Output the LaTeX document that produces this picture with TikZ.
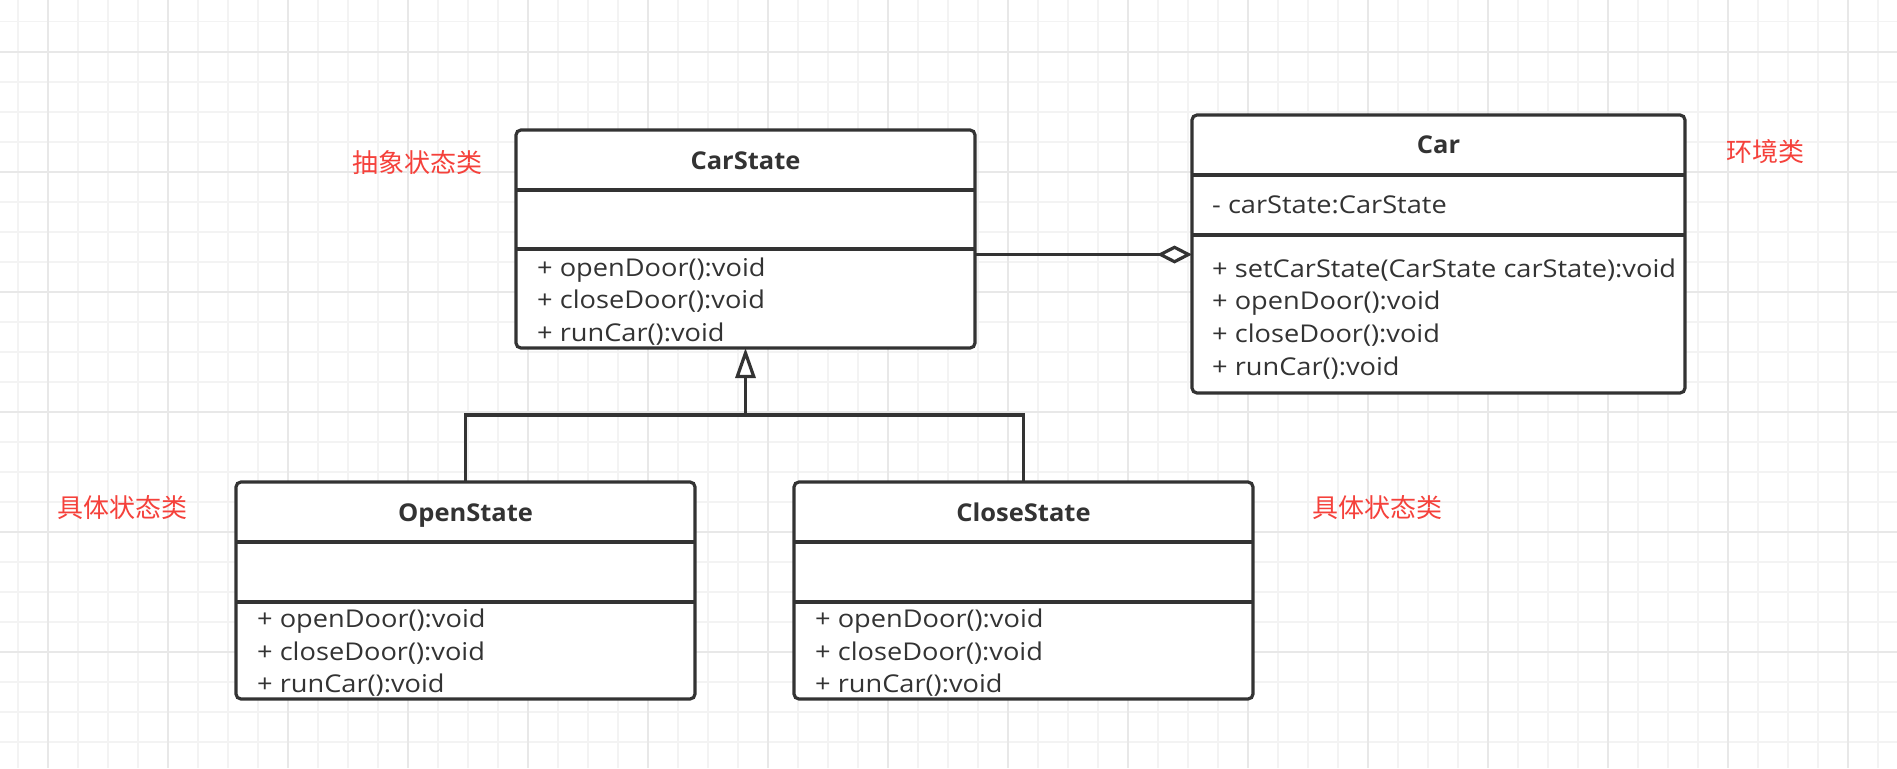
\documentclass[tikz,border=0pt]{standalone}
\usepackage{fontspec}
\setmainfont{Open Sans}
\newfontfamily\uifont[FakeStretch=1.11]{Open Sans}
\newfontfamily\uititle[FakeStretch=1.04]{Open Sans}
\newfontfamily\cjkfont{Noto Sans CJK SC}
\usetikzlibrary{arrows.meta,calc}

\definecolor{ink}{HTML}{333333}
\definecolor{gridminor}{HTML}{F3F3F3}
\definecolor{gridmajor}{HTML}{E8E8E8}
\definecolor{notered}{HTML}{F5413B}

\begin{document}
\begin{tikzpicture}[x=1pt,y=-1pt,
  classbox/.style={draw=ink, line width=3.2pt, fill=white, rounded corners=5pt,
    inner sep=0pt, outer sep=0pt, anchor=north west},
  sepline/.style={draw=ink, line width=3.2pt},
  conn/.style={draw=ink, line width=3.2pt, line join=miter},
  mtext/.style={anchor=base west, inner sep=0pt, text=ink, font=\uifont\fontsize{24.5}{28}\selectfont},
  ttext/.style={anchor=base, inner sep=0pt, text=ink, font=\uititle\fontsize{24.5}{28}\selectfont\bfseries},
  notelabel/.style={anchor=west, inner sep=0pt, text=notered, font=\fontsize{26}{30}\selectfont\cjkfont},
  minorline/.style={draw=gridminor, line width=1.6pt},
  majorline/.style={draw=gridmajor, line width=2pt}
]
\useasboundingbox (0,0) rectangle (1897,768);
\fill[white] (0,0) rectangle (1897,768);

% grid
\foreach \i in {0,...,63} \draw[minorline] (18+30*\i,0) -- (18+30*\i,768);
\foreach \j in {0,...,25} \draw[minorline] (0,21.7+30*\j) -- (1897,21.7+30*\j);
\foreach \i in {0,...,15} \draw[majorline] (48+120*\i,0) -- (48+120*\i,768);
\foreach \j in {0,...,6} \draw[majorline] (0,51.7+120*\j) -- (1897,51.7+120*\j);

% CarState
\node[classbox, minimum width=459pt, minimum height=218pt] (cs) at (516,130) {};
\draw[sepline] ($(cs.north west)+(0,60)$) -- ($(cs.north east)+(0,60)$);
\draw[sepline] ($(cs.north west)+(0,119)$) -- ($(cs.north east)+(0,119)$);
\node[ttext] (cs-t) at (745.5,169.5) {CarState};
\node[mtext] (cs-m1) at (537,276) {+ openDoor():void};
\node[mtext] (cs-m2) at (537,308.5) {+ closeDoor():void};
\node[mtext] (cs-m3) at (537,341) {+ runCar():void};

% Car
\node[classbox, minimum width=493pt, minimum height=278pt] (car) at (1192,115) {};
\draw[sepline] ($(car.north west)+(0,60)$) -- ($(car.north east)+(0,60)$);
\draw[sepline] ($(car.north west)+(0,120)$) -- ($(car.north east)+(0,120)$);
\node[ttext] (car-t) at (1438.5,153.5) {Car};
\node[mtext] (car-a1) at (1212,213.5) {- carState:CarState};
\node[mtext] (car-m1) at (1212,277) {+ setCarState(CarState carState):void};
\node[mtext] (car-m2) at (1212,309.5) {+ openDoor():void};
\node[mtext] (car-m3) at (1212,342) {+ closeDoor():void};
\node[mtext] (car-m4) at (1212,375) {+ runCar():void};

% OpenState
\node[classbox, minimum width=459pt, minimum height=217pt] (os) at (236,482) {};
\draw[sepline] ($(os.north west)+(0,60)$) -- ($(os.north east)+(0,60)$);
\draw[sepline] ($(os.north west)+(0,120)$) -- ($(os.north east)+(0,120)$);
\node[ttext] (os-t) at (465.5,521) {OpenState};
\node[mtext] (os-m1) at (257,627.5) {+ openDoor():void};
\node[mtext] (os-m2) at (257,660) {+ closeDoor():void};
\node[mtext] (os-m3) at (257,692) {+ runCar():void};

% CloseState
\node[classbox, minimum width=459pt, minimum height=217pt] (cls) at (794,482) {};
\draw[sepline] ($(cls.north west)+(0,60)$) -- ($(cls.north east)+(0,60)$);
\draw[sepline] ($(cls.north west)+(0,120)$) -- ($(cls.north east)+(0,120)$);
\node[ttext] (cls-t) at (1023.5,521) {CloseState};
\node[mtext] (cls-m1) at (815,627.5) {+ openDoor():void};
\node[mtext] (cls-m2) at (815,660) {+ closeDoor():void};
\node[mtext] (cls-m3) at (815,692) {+ runCar():void};

% aggregation
\coordinate (aggy) at (0,254.5);
\draw[conn, -{Diamond[open, length=35pt, width=18pt]}] (cs.east |- aggy) -- (car.west |- aggy);

% generalization
\coordinate (jn) at (745.5,415);
\draw[conn] (os.north) |- (jn);
\draw[conn] (cls.north) |- (jn);
\draw[conn, -{Triangle[open, length=30pt, width=20pt]}] (jn) -- (cs.south);

% notes
\node[notelabel] (n1) at (352,163) {抽象状态类};
\node[notelabel] (n2) at (57,508) {具体状态类};
\node[notelabel] (n3) at (1312,508) {具体状态类};
\node[notelabel] (n4) at (1726,152) {环境类};
\end{tikzpicture}
\end{document}
